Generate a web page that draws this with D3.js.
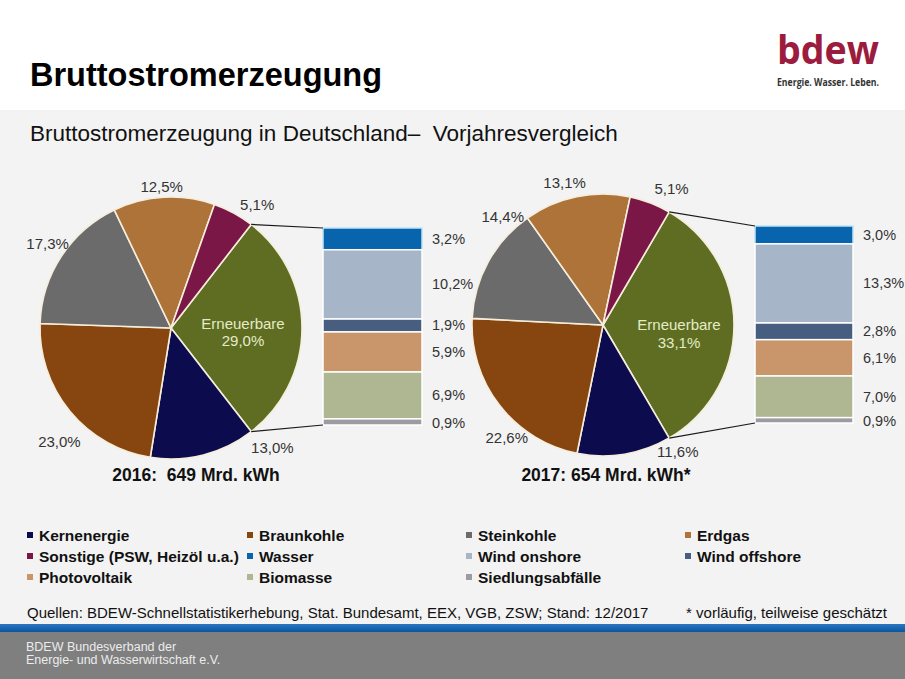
<!DOCTYPE html>
<html>
<head>
<meta charset="utf-8">
<script src="https://cdn.jsdelivr.net/npm/d3@7/dist/d3.min.js"></script>
<style>
  html, body { margin: 0; padding: 0; background: #ffffff; }
  svg { display: block; font-family: "Liberation Sans", Arial, sans-serif; }
</style>
</head>
<body>
<svg id="chart" width="905" height="679"></svg>
<script>
// ---------------- DATA ----------------
const pieCategories = ["Erneuerbare", "Kernenergie", "Braunkohle", "Steinkohle", "Erdgas", "Sonstige (PSW, Heizöl u.a.)"];
const pie2016 = [29.0, 13.0, 23.0, 17.3, 12.5, 5.1];
const pie2017 = [33.1, 11.6, 22.6, 14.4, 13.1, 5.1];
const renewCategories = ["Wasser", "Wind onshore", "Wind offshore", "Photovoltaik", "Biomasse", "Siedlungsabfälle"];
const renew2016 = [3.2, 10.2, 1.9, 5.9, 6.9, 0.9];
const renew2017 = [3.0, 13.3, 2.8, 6.1, 7.0, 0.9];
const yearLabels = ["2016:  649 Mrd. kWh", "2017: 654 Mrd. kWh*"];
const legendItems = ["Kernenergie", "Braunkohle", "Steinkohle", "Erdgas",
  "Sonstige (PSW, Heizöl u.a.)", "Wasser", "Wind onshore", "Wind offshore",
  "Photovoltaik", "Biomasse", "Siedlungsabfälle"];
const title = "Bruttostromerzeugung";
const subtitle = "Bruttostromerzeugung in Deutschland\u2013  Vorjahresvergleich";
const sourceText = "Quellen: BDEW-Schnellstatistikerhebung, Stat. Bundesamt, EEX, VGB, ZSW; Stand: 12/2017";
const noteText = "* vorläufig, teilweise geschätzt";
const footerLines = ["BDEW Bundesverband der", "Energie- und Wasserwirtschaft e.V."];

// ---------------- STYLE / LAYOUT ----------------
const colors = {
  "Erneuerbare": "#5e6d22",
  "Kernenergie": "#0b0b4d",
  "Braunkohle": "#87460f",
  "Steinkohle": "#6b6b6b",
  "Erdgas": "#ad7338",
  "Sonstige (PSW, Heizöl u.a.)": "#7a1747",
  "Wasser": "#0864ad",
  "Wind onshore": "#a7b5c8",
  "Wind offshore": "#475e80",
  "Photovoltaik": "#c9966b",
  "Biomasse": "#aeb692",
  "Siedlungsabfälle": "#9b9ba1"
};
const fmt = v => d3.format(".1f")(v).replace(".", ",") + "%";

const panels = [
  { pie: pie2016, bar: renew2016, cx: 171, cy: 328, r: 131, barX: 323, barTop: 228, barW: 99, barH: 197,
    yearX: 196, yearY: 475, inner: [72, -5, 12],
    nudge: [null, [64, -27], [5, 18], [3, -2], [-1, 9], [14, 9]] },
  { pie: pie2017, bar: renew2017, cx: 603, cy: 325, r: 131, barX: 755, barTop: 226, barW: 98, barH: 197,
    yearX: 606, yearY: 475, inner: [76, -1, 17],
    nudge: [null, [50, -22], [23, 20], [32, -36], [-8, 5], [14, 4]] }
];

const svg = d3.select("#chart");

// backgrounds
svg.append("rect").attr("x", 0).attr("y", 0).attr("width", 905).attr("height", 110).attr("fill", "#ffffff");
svg.append("rect").attr("x", 0).attr("y", 110).attr("width", 905).attr("height", 514).attr("fill", "#f3f3f3");
const grad = svg.append("defs").append("linearGradient").attr("id", "band").attr("x1", 0).attr("y1", 0).attr("x2", 0).attr("y2", 1);
grad.append("stop").attr("offset", "0%").attr("stop-color", "#2a78c0");
grad.append("stop").attr("offset", "100%").attr("stop-color", "#0b559e");
svg.append("rect").attr("x", 0).attr("y", 624).attr("width", 905).attr("height", 8).attr("fill", "url(#band)");
svg.append("rect").attr("x", 0).attr("y", 632).attr("width", 905).attr("height", 47).attr("fill", "#7f7f7f");

// header
svg.append("text").attr("x", 30).attr("y", 86).attr("font-size", 32.5).attr("font-weight", "bold")
  .attr("fill", "#000").text(title);
svg.append("text").attr("x", 777).attr("y", 64).attr("font-size", 39).attr("font-weight", "bold")
  .attr("font-family", "'Open Sans', 'DejaVu Sans', sans-serif")
  .attr("fill", "#9c1c3d").attr("textLength", 102).attr("lengthAdjust", "spacingAndGlyphs").text("bdew");
svg.append("text").attr("x", 777).attr("y", 86).attr("font-size", 10.5).attr("font-weight", "bold")
  .attr("font-family", "'Open Sans', 'DejaVu Sans', sans-serif")
  .attr("fill", "#333").attr("textLength", 102).attr("lengthAdjust", "spacingAndGlyphs").text("Energie. Wasser. Leben.");
svg.append("text").attr("x", 30).attr("y", 141).attr("font-size", 22.5).attr("fill", "#111")
  .style("white-space", "pre").text(subtitle);

// panels
panels.forEach(p => {
  const g = svg.append("g").attr("transform", `translate(${p.cx},${p.cy})`);
  const total = d3.sum(p.pie);
  const ernAngle = p.pie[0] / total * 2 * Math.PI;
  const start = Math.PI / 2 - ernAngle / 2;
  const pie = d3.pie().sort(null).value(d => d.v).startAngle(start).endAngle(start + 2 * Math.PI);
  const arcs = pie(pieCategories.map((c, i) => ({ c, v: p.pie[i] })));
  const arc = d3.arc().innerRadius(0).outerRadius(p.r);
  const labelArc = d3.arc().innerRadius(p.r + 20).outerRadius(p.r + 20);

  g.selectAll("path.slice").data(arcs).join("path")
    .attr("class", "slice")
    .attr("d", arc)
    .attr("fill", d => colors[d.data.c])
    .attr("stroke", "#f6eedc").attr("stroke-width", 1.6).attr("stroke-linejoin", "round");

  // outside labels
  arcs.forEach((a, i) => {
    if (i === 0) return;
    const [x, y] = labelArc.centroid(a);
    g.append("text").attr("x", x + p.nudge[i][0]).attr("y", y + p.nudge[i][1])
      .attr("text-anchor", "middle").attr("dominant-baseline", "central")
      .attr("font-size", 15).attr("fill", "#333").text(fmt(a.data.v));
  });
  // inner label
  const mid0 = (arcs[0].startAngle + arcs[0].endAngle) / 2;
  const ix = Math.sin(mid0) * p.inner[0], iy = -Math.cos(mid0) * p.inner[0];
  g.append("text").attr("x", ix).attr("y", iy + p.inner[1]).attr("text-anchor", "middle")
    .attr("dominant-baseline", "central").attr("font-size", 15).attr("fill", "#e4ebc6").text(pieCategories[0]);
  g.append("text").attr("x", ix).attr("y", iy + p.inner[2]).attr("text-anchor", "middle")
    .attr("dominant-baseline", "central").attr("font-size", 15).attr("fill", "#e4ebc6").text(fmt(p.pie[0]));

  // stacked bar
  const y = d3.scaleLinear().domain([0, d3.sum(p.bar)]).range([p.barTop, p.barTop + p.barH]);
  let acc = 0;
  const segs = p.bar.map((v, i) => { const s = { c: renewCategories[i], v, y0: acc, y1: acc + v }; acc += v; return s; });
  svg.selectAll(null).data(segs).join("rect")
    .attr("x", p.barX).attr("width", p.barW)
    .attr("y", d => y(d.y0)).attr("height", d => y(d.y1) - y(d.y0))
    .attr("fill", d => colors[d.c])
    .attr("stroke", d => d.c === "Wasser" ? "#bfe3f4" : "#ffffff").attr("stroke-width", 1.5);
  svg.selectAll(null).data(segs).join("text")
    .attr("x", p.barX + p.barW + 10)
    .attr("y", d => (y(d.y0) + y(d.y1)) / 2 + (d.c === "Siedlungsabfälle" ? 1 : 0))
    .attr("dominant-baseline", "central").attr("font-size", 14.5).attr("fill", "#333")
    .text(d => fmt(d.v));

  // connector lines
  const a0 = arcs[0].startAngle, a1 = arcs[0].endAngle;
  svg.append("line")
    .attr("x1", p.cx + Math.sin(a0) * p.r).attr("y1", p.cy - Math.cos(a0) * p.r)
    .attr("x2", p.barX).attr("y2", p.barTop).attr("stroke", "#1a1a1a").attr("stroke-width", 1.2);
  svg.append("line")
    .attr("x1", p.cx + Math.sin(a1) * p.r).attr("y1", p.cy - Math.cos(a1) * p.r)
    .attr("x2", p.barX).attr("y2", p.barTop + p.barH).attr("stroke", "#1a1a1a").attr("stroke-width", 1.2);
});

// year labels
panels.forEach((p, i) => {
  svg.append("text").attr("x", p.yearX).attr("y", p.yearY).attr("text-anchor", "middle")
    .attr("dominant-baseline", "central").attr("font-size", 17.5).attr("font-weight", "bold")
    .attr("fill", "#111").style("white-space", "pre").text(yearLabels[i]);
});

// legend
const legendCols = [27, 247, 466, 685];
const legendRows = [535, 556, 577];
legendItems.forEach((item, i) => {
  const col = i % 4, row = Math.floor(i / 4);
  const lx = legendCols[col], ly = legendRows[row];
  svg.append("rect").attr("x", lx).attr("y", ly - 3).attr("width", 6).attr("height", 6).attr("fill", colors[item]);
  svg.append("text").attr("x", lx + 12).attr("y", ly).attr("dominant-baseline", "central")
    .attr("font-size", 15.5).attr("font-weight", "bold").attr("fill", "#111").text(item);
});

// source + note
svg.append("text").attr("x", 27).attr("y", 612).attr("dominant-baseline", "central")
  .attr("font-size", 15).attr("fill", "#111").text(sourceText);
svg.append("text").attr("x", 887).attr("y", 612).attr("dominant-baseline", "central").attr("text-anchor", "end")
  .attr("font-size", 15).attr("fill", "#111").text(noteText);

// footer
footerLines.forEach((t, i) => {
  svg.append("text").attr("x", 26).attr("y", 647 + i * 13).attr("dominant-baseline", "central")
    .attr("font-size", 12.5).attr("fill", "#ececec").text(t);
});
</script>
</body>
</html>
